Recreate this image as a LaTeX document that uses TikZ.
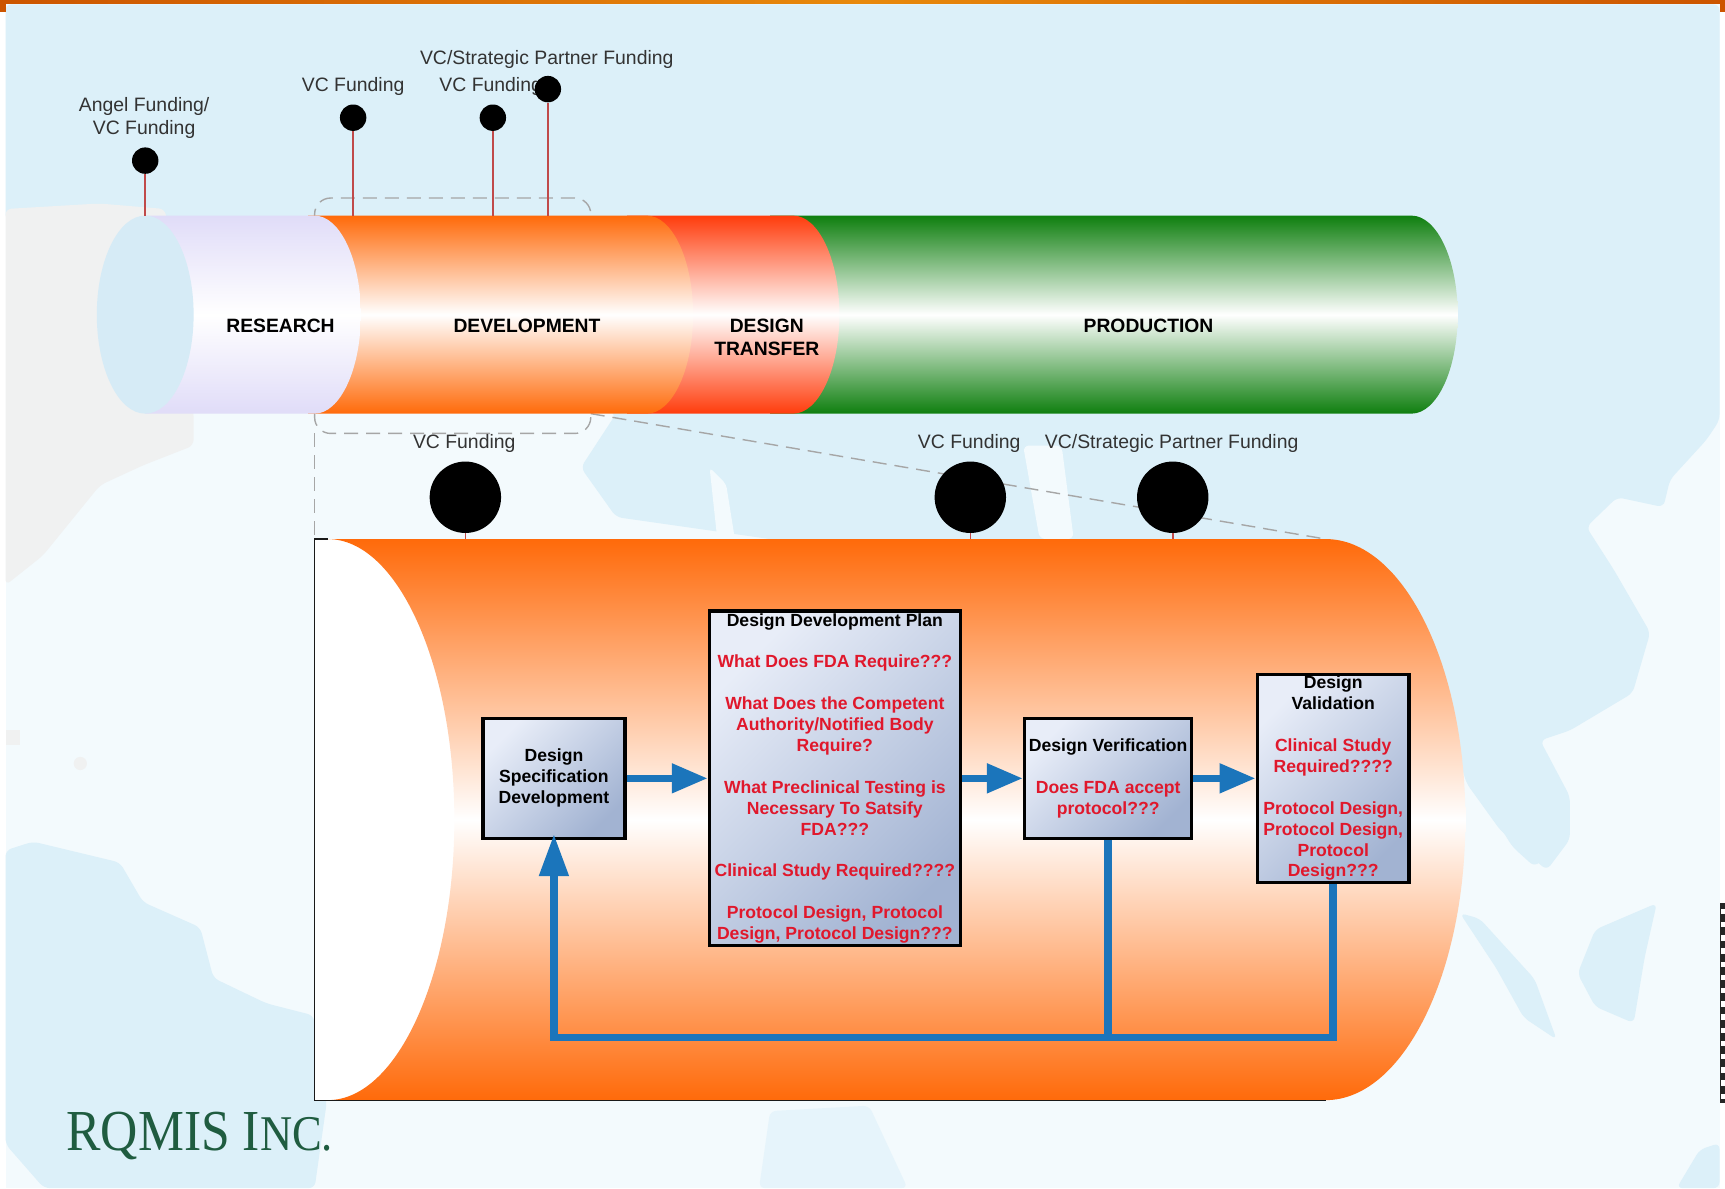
\documentclass[tikz,border=0pt]{standalone}
\usepackage{fontspec}
\setmainfont{Liberation Sans}
\newfontfamily\logofont{Liberation Serif}
\usepackage{xcolor}
\usetikzlibrary{calc,positioning,arrows.meta}

\definecolor{seablue}{HTML}{F3FAFD}
\definecolor{landblue}{HTML}{DCF0F9}
\definecolor{landgray}{HTML}{F0F1F1}
\definecolor{capblue}{HTML}{D6EBF6}
\definecolor{lavender}{HTML}{E0DCF8}
\definecolor{tubeorange}{HTML}{FF6A0A}
\definecolor{tubered}{HTML}{FF3C0C}
\definecolor{tubegreen}{HTML}{0F7F0F}
\definecolor{flowblue}{HTML}{1B75BB}
\definecolor{flowred}{HTML}{E0182C}
\definecolor{stemred}{HTML}{C04A4A}
\definecolor{logogreen}{HTML}{1F5C40}
\definecolor{boxlight}{HTML}{E8EDF8}
\definecolor{boxdark}{HTML}{A2B3D2}
\definecolor{stripedge}{HTML}{CC5500}
\definecolor{stripmid}{HTML}{E8890C}

\newcommand{\flowq}[1]{\textcolor{flowred}{#1}}

\tikzset{
    fundlabel/.style={inner sep=0pt, align=center, text=black!80, font=\fontsize{9.7}{11.5}\selectfont},
    stagelabel/.style={inner sep=0pt, align=center, font=\bfseries\fontsize{9.65}{11.5}\selectfont},
    flowbox/.style={draw=black, line width=1.65pt, inner sep=0pt, align=center,
        top color=boxlight, bottom color=boxdark, shading angle=45,
        font=\bfseries\fontsize{8.8}{10.45}\selectfont},
    smalldot/.style={circle, fill=black, inner sep=0pt, minimum size=13.2pt},
    bigdot/.style={circle, fill=black, inner sep=0pt, minimum size=35.7pt},
    stemline/.style={stemred, line width=0.8pt},
    flowline/.style={flowblue, line width=3.8pt},
    flowarrow/.style={flowline, -{Triangle[length=18pt, width=14pt]}},
    zoomline/.style={black!35, line width=0.7pt, dashed, dash pattern=on 7pt off 4pt},
    landpart/.style={fill=landblue, rounded corners=3pt},
}

\begin{document}
\begin{tikzpicture}[x=0.55pt, y=-0.55pt]
    \useasboundingbox (0,0) rectangle (1568,1080);

    % page and map
    \fill[white] (0,0) rectangle (1568,1080);
    \fill[seablue] (5,4) rectangle (1563,1080);
    \path[landpart] (5,4) -- (1563,4) -- (1563,382) -- (1551,400) -- (1518,436) -- (1512,461) -- (1470,452)
        -- (1442,479) -- (1467,518) -- (1500,575) -- (1484,630) -- (1427,664) -- (1400,673) -- (1427,724)
        -- (1427,763) -- (1406,791) -- (1364,755) -- (1333,712) -- (1300,600) -- (700,490) -- (560,470)
        -- (528,425) -- (560,376) -- (290,300) -- (200,200) -- (5,200) -- cycle;
    \fill[seablue, rounded corners=3pt] (930,405) -- (965,405) -- (976,490) -- (945,490) -- cycle;
    \fill[seablue, rounded corners=2pt] (645,425) -- (660,440) -- (668,490) -- (652,490) -- cycle;
    \path[fill=landgray, rounded corners=3pt] (5,190) -- (90,185) -- (150,190) -- (176,376) -- (176,405) -- (130,423)
        -- (91,441) -- (39,505) -- (5,532) -- cycle;
    \fill[landgray] (73,694) circle[radius=6];
    \fill[landgray] (5,664) rectangle (18,677);
    \path[landpart] (5,773) -- (30,765) -- (109,784) -- (130,820) -- (182,843) -- (194,889) -- (242,912)
        -- (285,923) -- (297,1002) -- (286,1080) -- (40,1080) -- (5,1040) -- cycle;
    \path[landpart] (1348,727) -- (1424,727) -- (1424,760) -- (1395,788) -- (1375,770) -- cycle;
    \path[landpart] (1327,830) -- (1345,835) -- (1395,890) -- (1415,945) -- (1385,925) -- (1360,880) -- cycle;
    \path[landpart] (1434,885) -- (1450,845) -- (1506,821) -- (1495,870) -- (1485,930) -- (1450,915) -- cycle;
    \path[landpart] (1524,1080) -- (1545,1045) -- (1563,1039) -- (1563,1080) -- cycle;
    \path[fill=landblue!55!seablue, rounded corners=3pt] (690,1080) -- (700,1010) -- (790,1005) -- (825,1080) -- cycle;

    \shade[left color=stripedge, right color=stripedge, middle color=stripmid] (0,0) rectangle (1568,3.6);
    \fill[stripedge] (0,3.6) rectangle (5,11);
    \fill[stripedge] (1563,3.6) rectangle (1568,11);
    \fill[black!85] (1563,821) rectangle (1568,1003);
    \foreach \chipy in {826,838,...,998}
        \fill[white] (1564.5,\chipy) rectangle (1568,\chipy+5);

    % zoom frame behind the tube
    \coordinate (zoomleft) at (286,394);
    \coordinate (zoomright) at (537,376);
    \coordinate (bigtop) at (0,490);
    \coordinate (tubetop) at (0,196);
    \draw[zoomline, rounded corners=8pt] (286,180) rectangle (537,394);
    \draw[zoomline] (zoomleft) -- (zoomleft |- bigtop);
    \draw[zoomline] (zoomright) -- (1205,490);

    % tube
    \foreach \tubeleft/\tuberight/\tubecolor in {700/1325/tubegreen, 570/763/tubered, 280/630/tubeorange, 132/328/lavender} {
        \shade[top color=\tubecolor, bottom color=\tubecolor, middle color=white]
            (\tubeleft,196) -- (\tuberight-42,196)
            .. controls ({\tuberight-42+23},196) and (\tuberight,236) .. (\tuberight,286)
            .. controls (\tuberight,336) and ({\tuberight-42+23},376) .. (\tuberight-42,376)
            -- (\tubeleft,376) -- cycle;
    }
    \fill[capblue] (132,286) ellipse[x radius=44, y radius=90];

    \node[stagelabel] (research) at (255,296) {RESEARCH};
    \node[stagelabel] (development) at (479,296) {DEVELOPMENT};
    \node[stagelabel] (transfer) at (697,307) {DESIGN\\TRANSFER};
    \node[stagelabel] (production) at (1044,296) {PRODUCTION};

    % funding dots on the tube
    \node[fundlabel] (angel label) at (131,107) {Angel Funding/\\VC Funding};
    \node[fundlabel] (vc label a) at (321,79) {VC Funding};
    \node[fundlabel] (vc label b) at (446,79) {VC Funding};
    \node[fundlabel] (partner label) at (497,54) {VC/Strategic Partner Funding};
    \node[smalldot] (angel dot) at (132,146) {};
    \node[smalldot] (vc dot a) at (321,107) {};
    \node[smalldot] (vc dot b) at (448,107) {};
    \node[smalldot] (partner dot) at (498,81) {};
    \foreach \dotname in {angel dot, vc dot a, vc dot b, partner dot}
        \draw[stemline] (\dotname.south) -- (\dotname.south |- tubetop);

    % enlarged development tube
    \fill[white] (286,490) rectangle (420,1000);
    \shade[top color=tubeorange, bottom color=tubeorange, middle color=white]
        (298,490) -- (1205,490)
        .. controls (1275,490) and (1332,604) .. (1332,745)
        .. controls (1332,886) and (1275,1000) .. (1205,1000)
        -- (298,1000)
        .. controls (361,1000) and (413,886) .. (413,745)
        .. controls (413,604) and (361,490) .. (298,490) -- cycle;
    \draw[black!90, line width=0.6pt] (298,490) -- (286,490) -- (286,1000) -- (1205,1000);

    \node[fundlabel] (big vc label a) at (422,403) {VC Funding};
    \node[fundlabel] (big vc label b) at (881,403) {VC Funding};
    \node[fundlabel] (big partner label) at (1065,403) {VC/Strategic Partner Funding};
    \node[bigdot] (big vc dot a) at (423,452) {};
    \node[bigdot] (big vc dot b) at (882,452) {};
    \node[bigdot] (big partner dot) at (1066,452) {};
    \foreach \dotname in {big vc dot a, big vc dot b, big partner dot}
        \draw[stemline] (\dotname.south) -- (\dotname.south |- bigtop);

    % design flow
    \node[flowbox, minimum width=71pt, minimum height=60pt] (specbox) at (503.5,707.5)
        {Design\\Specification\\Development};
    \node[flowbox, right=40.6pt of specbox, minimum width=125.4pt, minimum height=167.2pt] (planbox)
        {Design Development Plan\\[10.45pt]
         \flowq{What Does FDA Require???}\\[10.45pt]
         \flowq{What Does the Competent}\\\flowq{Authority/Notified Body}\\\flowq{Require?}\\[10.45pt]
         \flowq{What Preclinical Testing is}\\\flowq{Necessary To Satsify}\\\flowq{FDA???}\\[10.45pt]
         \flowq{Clinical Study Required????}\\[10.45pt]
         \flowq{Protocol Design, Protocol}\\\flowq{Design, Protocol Design???}};
    \node[flowbox, right=30.5pt of planbox, minimum width=83.6pt, minimum height=60pt] (verifbox)
        {Design Verification\\[10.45pt]
         \flowq{Does FDA accept}\\\flowq{protocol???}};
    \node[flowbox, right=31.1pt of verifbox, minimum width=75.9pt, minimum height=104pt] (validbox)
        {Design\\Validation\\[10.45pt]
         \flowq{Clinical Study}\\\flowq{Required????}\\[10.45pt]
         \flowq{Protocol Design,}\\\flowq{Protocol Design,}\\\flowq{Protocol}\\\flowq{Design???}};

    \coordinate (returnline) at (503.5,943);
    \draw[flowarrow] (specbox) -- (planbox);
    \draw[flowarrow] (planbox) -- (verifbox);
    \draw[flowarrow] (verifbox) -- (validbox);
    \draw[flowarrow, -{Triangle[length=21pt, width=14pt]}, shorten >=-3pt] (validbox.south) |- (returnline) -- (specbox.south);
    \draw[flowline] (verifbox.south) -- (verifbox.south |- returnline);

    % logo
    \node[anchor=base west, inner sep=0pt, text=logogreen, font=\logofont] (logo) at (60,1046)
        {\scalebox{0.89}[1]{\fontsize{29}{29}\selectfont RQMIS I\fontsize{25}{25}\selectfont NC.}};
\end{tikzpicture}
\end{document}
